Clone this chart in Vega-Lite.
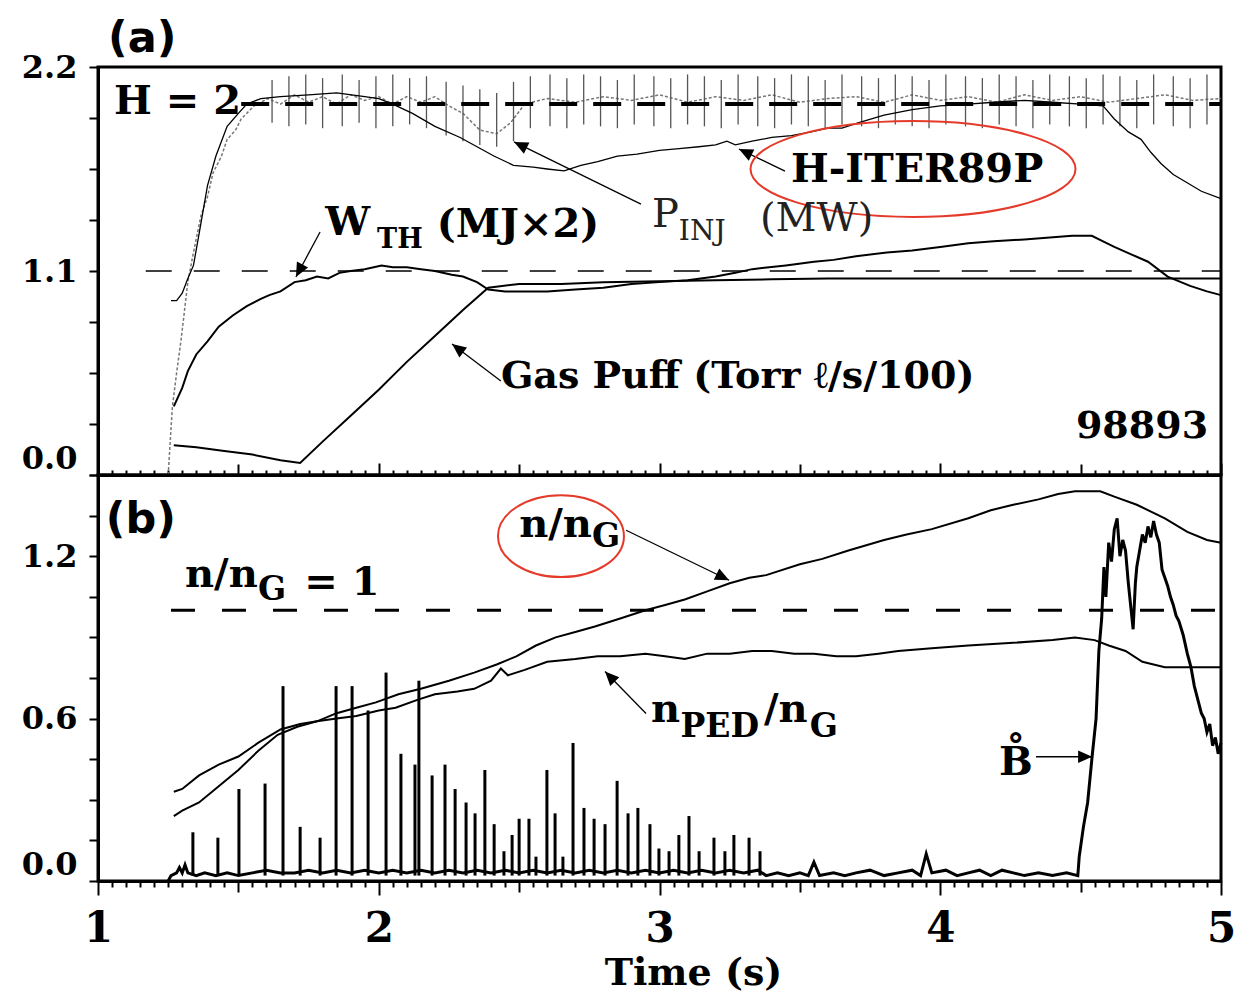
{
"$schema": "https://vega.github.io/schema/vega-lite/v6.json",
"background": "white",
"padding": {"left": 19, "top": 16, "right": 2, "bottom": 2},
"spacing": 0,
"bounds": "flush",
"config": {
 "view": {"stroke": "black", "strokeWidth": 3},
 "axis": {"domainColor": "black", "domainWidth": 3, "tickColor": "black", "tickWidth": 2, "labelColor": "black", "labelFont": "DejaVu Serif", "labelFontWeight": "bold", "titleFont": "DejaVu Serif", "titleFontWeight": "bold", "titleColor": "black", "grid": false},
 "text": {"font": "DejaVu Serif", "fontWeight": "bold", "color": "black"}
},
"datasets": {
 "a_lines": [
  {"s":"PINJ","t":1.25,"v":0.0},{"s":"PINJ","t":1.258,"v":0.2},{"s":"PINJ","t":1.265,"v":0.37},{"s":"PINJ","t":1.28,"v":0.55},{"s":"PINJ","t":1.296,"v":0.73},{"s":"PINJ","t":1.32,"v":1.04},{"s":"PINJ","t":1.34,"v":1.2},{"s":"PINJ","t":1.367,"v":1.4},{"s":"PINJ","t":1.39,"v":1.5},{"s":"PINJ","t":1.41,"v":1.63},{"s":"PINJ","t":1.44,"v":1.72},{"s":"PINJ","t":1.46,"v":1.81},{"s":"PINJ","t":1.49,"v":1.86},{"s":"PINJ","t":1.51,"v":1.92},{"s":"PINJ","t":1.556,"v":1.99},{"s":"PINJ","t":1.605,"v":2.03},{"s":"PINJ","t":1.65,"v":2.0},{"s":"PINJ","t":1.7,"v":2.05},{"s":"PINJ","t":1.75,"v":2.01},{"s":"PINJ","t":1.8,"v":2.04},{"s":"PINJ","t":1.85,"v":2.0},{"s":"PINJ","t":1.9,"v":2.05},{"s":"PINJ","t":1.95,"v":2.02},{"s":"PINJ","t":2.0,"v":2.04},{"s":"PINJ","t":2.05,"v":2.0},{"s":"PINJ","t":2.1,"v":2.04},{"s":"PINJ","t":2.15,"v":2.01},{"s":"PINJ","t":2.2,"v":2.04},{"s":"PINJ","t":2.25,"v":1.99},{"s":"PINJ","t":2.3,"v":1.95},{"s":"PINJ","t":2.36,"v":1.86},{"s":"PINJ","t":2.42,"v":1.84},{"s":"PINJ","t":2.47,"v":1.9},{"s":"PINJ","t":2.52,"v":2.0},{"s":"PINJ","t":2.6,"v":2.03},{"s":"PINJ","t":2.7,"v":2.01},{"s":"PINJ","t":2.8,"v":2.04},{"s":"PINJ","t":2.9,"v":2.02},{"s":"PINJ","t":3.0,"v":2.05},{"s":"PINJ","t":3.1,"v":2.01},{"s":"PINJ","t":3.2,"v":2.04},{"s":"PINJ","t":3.3,"v":2.02},{"s":"PINJ","t":3.4,"v":2.05},{"s":"PINJ","t":3.5,"v":2.01},{"s":"PINJ","t":3.6,"v":2.03},{"s":"PINJ","t":3.7,"v":2.04},{"s":"PINJ","t":3.8,"v":2.01},{"s":"PINJ","t":3.9,"v":2.05},{"s":"PINJ","t":4.0,"v":2.02},{"s":"PINJ","t":4.1,"v":2.04},{"s":"PINJ","t":4.2,"v":2.01},{"s":"PINJ","t":4.3,"v":2.05},{"s":"PINJ","t":4.4,"v":2.02},{"s":"PINJ","t":4.5,"v":2.04},{"s":"PINJ","t":4.6,"v":2.01},{"s":"PINJ","t":4.7,"v":2.03},{"s":"PINJ","t":4.8,"v":2.05},{"s":"PINJ","t":4.9,"v":2.02},{"s":"PINJ","t":5.0,"v":2.03},
  {"s":"H89","t":1.26,"v":0.94},{"s":"H89","t":1.28,"v":0.94},{"s":"H89","t":1.3,"v":0.98},{"s":"H89","t":1.32,"v":1.06},{"s":"H89","t":1.34,"v":1.13},{"s":"H89","t":1.36,"v":1.3},{"s":"H89","t":1.39,"v":1.56},{"s":"H89","t":1.42,"v":1.72},{"s":"H89","t":1.46,"v":1.88},{"s":"H89","t":1.5,"v":1.95},{"s":"H89","t":1.53,"v":2.0},{"s":"H89","t":1.58,"v":2.03},{"s":"H89","t":1.65,"v":2.04},{"s":"H89","t":1.75,"v":2.05},{"s":"H89","t":1.85,"v":2.06},{"s":"H89","t":1.95,"v":2.04},{"s":"H89","t":2.0,"v":2.03},{"s":"H89","t":2.05,"v":2.0},{"s":"H89","t":2.12,"v":1.95},{"s":"H89","t":2.2,"v":1.88},{"s":"H89","t":2.29,"v":1.82},{"s":"H89","t":2.35,"v":1.77},{"s":"H89","t":2.41,"v":1.72},{"s":"H89","t":2.48,"v":1.67},{"s":"H89","t":2.55,"v":1.66},{"s":"H89","t":2.6,"v":1.65},{"s":"H89","t":2.66,"v":1.64},{"s":"H89","t":2.72,"v":1.67},{"s":"H89","t":2.78,"v":1.69},{"s":"H89","t":2.85,"v":1.72},{"s":"H89","t":2.92,"v":1.73},{"s":"H89","t":3.0,"v":1.75},{"s":"H89","t":3.07,"v":1.76},{"s":"H89","t":3.14,"v":1.77},{"s":"H89","t":3.2,"v":1.78},{"s":"H89","t":3.24,"v":1.8},{"s":"H89","t":3.27,"v":1.78},{"s":"H89","t":3.33,"v":1.8},{"s":"H89","t":3.4,"v":1.82},{"s":"H89","t":3.47,"v":1.83},{"s":"H89","t":3.54,"v":1.85},{"s":"H89","t":3.6,"v":1.87},{"s":"H89","t":3.65,"v":1.87},{"s":"H89","t":3.71,"v":1.9},{"s":"H89","t":3.8,"v":1.94},{"s":"H89","t":3.9,"v":1.97},{"s":"H89","t":4.0,"v":1.99},{"s":"H89","t":4.1,"v":2.0},{"s":"H89","t":4.19,"v":2.01},{"s":"H89","t":4.3,"v":2.02},{"s":"H89","t":4.4,"v":2.01},{"s":"H89","t":4.5,"v":2.0},{"s":"H89","t":4.58,"v":1.99},{"s":"H89","t":4.62,"v":1.92},{"s":"H89","t":4.67,"v":1.85},{"s":"H89","t":4.715,"v":1.81},{"s":"H89","t":4.75,"v":1.74},{"s":"H89","t":4.786,"v":1.68},{"s":"H89","t":4.83,"v":1.62},{"s":"H89","t":4.875,"v":1.58},{"s":"H89","t":4.93,"v":1.53},{"s":"H89","t":5.0,"v":1.49},
  {"s":"WTH","t":1.27,"v":0.37},{"s":"WTH","t":1.3,"v":0.47},{"s":"WTH","t":1.32,"v":0.56},{"s":"WTH","t":1.35,"v":0.65},{"s":"WTH","t":1.39,"v":0.72},{"s":"WTH","t":1.43,"v":0.8},{"s":"WTH","t":1.48,"v":0.86},{"s":"WTH","t":1.53,"v":0.91},{"s":"WTH","t":1.58,"v":0.95},{"s":"WTH","t":1.61,"v":0.97},{"s":"WTH","t":1.65,"v":0.99},{"s":"WTH","t":1.7,"v":1.04},{"s":"WTH","t":1.74,"v":1.05},{"s":"WTH","t":1.78,"v":1.07},{"s":"WTH","t":1.82,"v":1.06},{"s":"WTH","t":1.86,"v":1.09},{"s":"WTH","t":1.9,"v":1.1},{"s":"WTH","t":1.95,"v":1.11},{"s":"WTH","t":2.01,"v":1.13},{"s":"WTH","t":2.05,"v":1.12},{"s":"WTH","t":2.1,"v":1.12},{"s":"WTH","t":2.15,"v":1.11},{"s":"WTH","t":2.2,"v":1.1},{"s":"WTH","t":2.26,"v":1.08},{"s":"WTH","t":2.3,"v":1.07},{"s":"WTH","t":2.35,"v":1.04},{"s":"WTH","t":2.39,"v":1.0},{"s":"WTH","t":2.45,"v":0.99},{"s":"WTH","t":2.5,"v":0.99},{"s":"WTH","t":2.6,"v":0.99},{"s":"WTH","t":2.7,"v":1.0},{"s":"WTH","t":2.8,"v":1.01},{"s":"WTH","t":2.9,"v":1.03},{"s":"WTH","t":3.0,"v":1.04},{"s":"WTH","t":3.1,"v":1.05},{"s":"WTH","t":3.2,"v":1.07},{"s":"WTH","t":3.27,"v":1.09},{"s":"WTH","t":3.33,"v":1.11},{"s":"WTH","t":3.45,"v":1.13},{"s":"WTH","t":3.55,"v":1.15},{"s":"WTH","t":3.62,"v":1.16},{"s":"WTH","t":3.7,"v":1.18},{"s":"WTH","t":3.81,"v":1.2},{"s":"WTH","t":3.9,"v":1.21},{"s":"WTH","t":4.0,"v":1.23},{"s":"WTH","t":4.1,"v":1.25},{"s":"WTH","t":4.19,"v":1.26},{"s":"WTH","t":4.3,"v":1.27},{"s":"WTH","t":4.39,"v":1.28},{"s":"WTH","t":4.47,"v":1.29},{"s":"WTH","t":4.54,"v":1.29},{"s":"WTH","t":4.58,"v":1.26},{"s":"WTH","t":4.62,"v":1.23},{"s":"WTH","t":4.68,"v":1.19},{"s":"WTH","t":4.74,"v":1.15},{"s":"WTH","t":4.81,"v":1.07},{"s":"WTH","t":4.89,"v":1.02},{"s":"WTH","t":4.95,"v":0.99},{"s":"WTH","t":5.0,"v":0.97},
  {"s":"Gas","t":1.27,"v":0.16},{"s":"Gas","t":1.35,"v":0.15},{"s":"Gas","t":1.45,"v":0.13},{"s":"Gas","t":1.55,"v":0.11},{"s":"Gas","t":1.65,"v":0.08},{"s":"Gas","t":1.72,"v":0.065},{"s":"Gas","t":1.8,"v":0.18},{"s":"Gas","t":1.9,"v":0.32},{"s":"Gas","t":2.0,"v":0.46},{"s":"Gas","t":2.1,"v":0.61},{"s":"Gas","t":2.2,"v":0.75},{"s":"Gas","t":2.3,"v":0.89},{"s":"Gas","t":2.39,"v":1.01},{"s":"Gas","t":2.5,"v":1.03},{"s":"Gas","t":2.65,"v":1.03},{"s":"Gas","t":2.8,"v":1.04},{"s":"Gas","t":3.0,"v":1.045},{"s":"Gas","t":3.2,"v":1.05},{"s":"Gas","t":3.4,"v":1.055},{"s":"Gas","t":3.6,"v":1.06},{"s":"Gas","t":4.0,"v":1.06},{"s":"Gas","t":4.5,"v":1.06},{"s":"Gas","t":5.0,"v":1.06}
 ],
 "a_spikes": [
  {"t":1.62,"v2":1.9,"v":2.13},{"t":1.68,"v2":1.88,"v":2.15},{"t":1.74,"v2":1.89,"v":2.16},{"t":1.8,"v2":1.87,"v":2.14},{"t":1.87,"v2":1.88,"v":2.16},{"t":1.93,"v2":1.9,"v":2.13},{"t":1.99,"v2":1.87,"v":2.15},{"t":2.05,"v2":1.88,"v":2.16},{"t":2.11,"v2":1.89,"v":2.14},{"t":2.17,"v2":1.87,"v":2.15},{"t":2.24,"v2":1.83,"v":2.12},{"t":2.3,"v2":1.8,"v":2.1},{"t":2.36,"v2":1.78,"v":2.08},{"t":2.42,"v2":1.77,"v":2.06},{"t":2.48,"v2":1.8,"v":2.12},{"t":2.54,"v2":1.87,"v":2.15},{"t":2.61,"v2":1.88,"v":2.16},{"t":2.67,"v2":1.87,"v":2.14},{"t":2.73,"v2":1.89,"v":2.16},{"t":2.79,"v2":1.88,"v":2.15},{"t":2.85,"v2":1.87,"v":2.13},{"t":2.91,"v2":1.89,"v":2.16},{"t":2.98,"v2":1.88,"v":2.15},{"t":3.04,"v2":1.87,"v":2.14},{"t":3.1,"v2":1.89,"v":2.16},{"t":3.16,"v2":1.88,"v":2.15},{"t":3.22,"v2":1.87,"v":2.13},{"t":3.28,"v2":1.89,"v":2.16},{"t":3.35,"v2":1.88,"v":2.15},{"t":3.41,"v2":1.87,"v":2.14},{"t":3.47,"v2":1.89,"v":2.16},{"t":3.53,"v2":1.88,"v":2.15},{"t":3.59,"v2":1.87,"v":2.13},{"t":3.65,"v2":1.89,"v":2.16},{"t":3.72,"v2":1.88,"v":2.15},{"t":3.78,"v2":1.87,"v":2.14},{"t":3.84,"v2":1.89,"v":2.16},{"t":3.9,"v2":1.88,"v":2.15},{"t":3.96,"v2":1.87,"v":2.13},{"t":4.02,"v2":1.89,"v":2.16},{"t":4.09,"v2":1.88,"v":2.15},{"t":4.15,"v2":1.87,"v":2.14},{"t":4.21,"v2":1.89,"v":2.16},{"t":4.27,"v2":1.88,"v":2.15},{"t":4.33,"v2":1.87,"v":2.13},{"t":4.39,"v2":1.89,"v":2.16},{"t":4.46,"v2":1.88,"v":2.15},{"t":4.52,"v2":1.87,"v":2.14},{"t":4.58,"v2":1.89,"v":2.16},{"t":4.64,"v2":1.88,"v":2.15},{"t":4.7,"v2":1.87,"v":2.13},{"t":4.76,"v2":1.89,"v":2.16},{"t":4.83,"v2":1.88,"v":2.15},{"t":4.89,"v2":1.87,"v":2.14},{"t":4.95,"v2":1.89,"v":2.16}
 ],
 "a_ref": [
  {"name":"H1.1","t":1.17,"t2":5.0,"v":1.1},
  {"name":"H=2","t":1.51,"t2":5.0,"v":2.0}
 ],
 "a_arrows": [
  {"t":1.705,"v":1.068,"t2":1.791,"v2":1.31,"dir":208},
  {"t":2.482,"v":1.796,"t2":2.934,"v2":1.461,"dir":296},
  {"t":3.283,"v":1.758,"t2":3.447,"v2":1.639,"dir":296},
  {"t":2.261,"v":0.706,"t2":2.435,"v2":0.507,"dir":307}
 ],
 "a_ellipse": [{"t":3.903,"v":1.65}],
 "a_text": [
  {"label":"H = 2","t":1.057,"v":2.011,"role":"big"},
  {"label":"W","t":1.809,"v":1.359,"role":"big"},
  {"label":"TH","t":1.994,"v":1.267,"role":"sub"},
  {"label":"(MJ×2)","t":2.207,"v":1.348,"role":"big"},
  {"label":"P","t":2.973,"v":1.402,"role":"reg"},
  {"label":"INJ","t":3.069,"v":1.31,"role":"regsub"},
  {"label":"(MW)","t":3.358,"v":1.38,"role":"reg"},
  {"label":"H-ITER89P","t":3.468,"v":1.645,"role":"big"},
  {"label":"Gas Puff (Torr ℓ/s/100)","t":2.435,"v":0.528,"role":"mid"},
  {"label":"98893","t":4.954,"v":0.259,"role":"right"},
  {"label":"(a)","t":1.036,"v":2.35,"role":"tag"}
 ],
 "b_lines": [
  {"s":"n","t":1.27,"v":0.33},{"s":"n","t":1.3,"v":0.34},{"s":"n","t":1.36,"v":0.39},{"s":"n","t":1.43,"v":0.43},{"s":"n","t":1.5,"v":0.46},{"s":"n","t":1.57,"v":0.51},{"s":"n","t":1.65,"v":0.56},{"s":"n","t":1.72,"v":0.58},{"s":"n","t":1.78,"v":0.59},{"s":"n","t":1.85,"v":0.62},{"s":"n","t":1.92,"v":0.64},{"s":"n","t":1.99,"v":0.66},{"s":"n","t":2.07,"v":0.69},{"s":"n","t":2.15,"v":0.71},{"s":"n","t":2.25,"v":0.74},{"s":"n","t":2.34,"v":0.77},{"s":"n","t":2.42,"v":0.8},{"s":"n","t":2.49,"v":0.83},{"s":"n","t":2.56,"v":0.87},{"s":"n","t":2.63,"v":0.9},{"s":"n","t":2.7,"v":0.92},{"s":"n","t":2.77,"v":0.94},{"s":"n","t":2.86,"v":0.97},{"s":"n","t":2.95,"v":1.0},{"s":"n","t":3.02,"v":1.02},{"s":"n","t":3.09,"v":1.04},{"s":"n","t":3.17,"v":1.07},{"s":"n","t":3.25,"v":1.1},{"s":"n","t":3.32,"v":1.12},{"s":"n","t":3.38,"v":1.13},{"s":"n","t":3.5,"v":1.17},{"s":"n","t":3.58,"v":1.19},{"s":"n","t":3.67,"v":1.22},{"s":"n","t":3.8,"v":1.26},{"s":"n","t":3.88,"v":1.28},{"s":"n","t":3.97,"v":1.3},{"s":"n","t":4.1,"v":1.34},{"s":"n","t":4.18,"v":1.37},{"s":"n","t":4.26,"v":1.39},{"s":"n","t":4.35,"v":1.41},{"s":"n","t":4.42,"v":1.43},{"s":"n","t":4.48,"v":1.44},{"s":"n","t":4.57,"v":1.44},{"s":"n","t":4.62,"v":1.42},{"s":"n","t":4.7,"v":1.39},{"s":"n","t":4.8,"v":1.34},{"s":"n","t":4.88,"v":1.29},{"s":"n","t":4.95,"v":1.26},{"s":"n","t":5.0,"v":1.25},
  {"s":"nped","t":1.27,"v":0.24},{"s":"nped","t":1.3,"v":0.26},{"s":"nped","t":1.36,"v":0.29},{"s":"nped","t":1.43,"v":0.35},{"s":"nped","t":1.5,"v":0.41},{"s":"nped","t":1.57,"v":0.48},{"s":"nped","t":1.64,"v":0.54},{"s":"nped","t":1.71,"v":0.57},{"s":"nped","t":1.78,"v":0.59},{"s":"nped","t":1.85,"v":0.6},{"s":"nped","t":1.92,"v":0.61},{"s":"nped","t":2.0,"v":0.63},{"s":"nped","t":2.06,"v":0.64},{"s":"nped","t":2.14,"v":0.67},{"s":"nped","t":2.2,"v":0.69},{"s":"nped","t":2.28,"v":0.7},{"s":"nped","t":2.34,"v":0.71},{"s":"nped","t":2.4,"v":0.74},{"s":"nped","t":2.435,"v":0.785},{"s":"nped","t":2.46,"v":0.76},{"s":"nped","t":2.52,"v":0.78},{"s":"nped","t":2.6,"v":0.81},{"s":"nped","t":2.7,"v":0.82},{"s":"nped","t":2.78,"v":0.83},{"s":"nped","t":2.86,"v":0.83},{"s":"nped","t":2.95,"v":0.84},{"s":"nped","t":3.02,"v":0.83},{"s":"nped","t":3.09,"v":0.82},{"s":"nped","t":3.17,"v":0.84},{"s":"nped","t":3.25,"v":0.84},{"s":"nped","t":3.33,"v":0.85},{"s":"nped","t":3.4,"v":0.85},{"s":"nped","t":3.48,"v":0.84},{"s":"nped","t":3.55,"v":0.84},{"s":"nped","t":3.63,"v":0.83},{"s":"nped","t":3.7,"v":0.83},{"s":"nped","t":3.78,"v":0.84},{"s":"nped","t":3.85,"v":0.85},{"s":"nped","t":3.97,"v":0.86},{"s":"nped","t":4.1,"v":0.87},{"s":"nped","t":4.26,"v":0.88},{"s":"nped","t":4.4,"v":0.89},{"s":"nped","t":4.48,"v":0.9},{"s":"nped","t":4.55,"v":0.89},{"s":"nped","t":4.6,"v":0.87},{"s":"nped","t":4.66,"v":0.85},{"s":"nped","t":4.72,"v":0.81},{"s":"nped","t":4.8,"v":0.79},{"s":"nped","t":4.9,"v":0.79},{"s":"nped","t":5.0,"v":0.79},
  {"s":"bdot","t":1.25,"v":0.0},{"s":"bdot","t":1.26,"v":0.02},{"s":"bdot","t":1.28,"v":0.03},{"s":"bdot","t":1.29,"v":0.05},{"s":"bdot","t":1.3,"v":0.03},{"s":"bdot","t":1.31,"v":0.06},{"s":"bdot","t":1.32,"v":0.03},{"s":"bdot","t":1.35,"v":0.02},{"s":"bdot","t":1.38,"v":0.03},{"s":"bdot","t":1.42,"v":0.02},{"s":"bdot","t":1.46,"v":0.03},{"s":"bdot","t":1.5,"v":0.02},{"s":"bdot","t":1.55,"v":0.03},{"s":"bdot","t":1.6,"v":0.04},{"s":"bdot","t":1.65,"v":0.03},{"s":"bdot","t":1.7,"v":0.03},{"s":"bdot","t":1.75,"v":0.04},{"s":"bdot","t":1.8,"v":0.03},{"s":"bdot","t":1.85,"v":0.04},{"s":"bdot","t":1.9,"v":0.03},{"s":"bdot","t":1.95,"v":0.04},{"s":"bdot","t":2.0,"v":0.03},{"s":"bdot","t":2.05,"v":0.04},{"s":"bdot","t":2.1,"v":0.03},{"s":"bdot","t":2.15,"v":0.04},{"s":"bdot","t":2.2,"v":0.03},{"s":"bdot","t":2.25,"v":0.04},{"s":"bdot","t":2.3,"v":0.03},{"s":"bdot","t":2.35,"v":0.04},{"s":"bdot","t":2.4,"v":0.03},{"s":"bdot","t":2.45,"v":0.04},{"s":"bdot","t":2.5,"v":0.03},{"s":"bdot","t":2.55,"v":0.04},{"s":"bdot","t":2.6,"v":0.03},{"s":"bdot","t":2.65,"v":0.04},{"s":"bdot","t":2.7,"v":0.03},{"s":"bdot","t":2.75,"v":0.04},{"s":"bdot","t":2.8,"v":0.03},{"s":"bdot","t":2.85,"v":0.04},{"s":"bdot","t":2.9,"v":0.03},{"s":"bdot","t":2.95,"v":0.04},{"s":"bdot","t":3.0,"v":0.03},{"s":"bdot","t":3.05,"v":0.04},{"s":"bdot","t":3.1,"v":0.03},{"s":"bdot","t":3.15,"v":0.04},{"s":"bdot","t":3.2,"v":0.03},{"s":"bdot","t":3.25,"v":0.04},{"s":"bdot","t":3.3,"v":0.03},{"s":"bdot","t":3.35,"v":0.04},{"s":"bdot","t":3.38,"v":0.02},{"s":"bdot","t":3.42,"v":0.03},{"s":"bdot","t":3.46,"v":0.02},{"s":"bdot","t":3.5,"v":0.03},{"s":"bdot","t":3.53,"v":0.02},{"s":"bdot","t":3.55,"v":0.07},{"s":"bdot","t":3.57,"v":0.02},{"s":"bdot","t":3.62,"v":0.03},{"s":"bdot","t":3.66,"v":0.02},{"s":"bdot","t":3.7,"v":0.03},{"s":"bdot","t":3.75,"v":0.04},{"s":"bdot","t":3.8,"v":0.02},{"s":"bdot","t":3.85,"v":0.03},{"s":"bdot","t":3.9,"v":0.04},{"s":"bdot","t":3.93,"v":0.02},{"s":"bdot","t":3.95,"v":0.1},{"s":"bdot","t":3.97,"v":0.03},{"s":"bdot","t":4.02,"v":0.04},{"s":"bdot","t":4.06,"v":0.02},{"s":"bdot","t":4.1,"v":0.03},{"s":"bdot","t":4.14,"v":0.04},{"s":"bdot","t":4.18,"v":0.02},{"s":"bdot","t":4.22,"v":0.04},{"s":"bdot","t":4.26,"v":0.03},{"s":"bdot","t":4.3,"v":0.02},{"s":"bdot","t":4.35,"v":0.03},{"s":"bdot","t":4.4,"v":0.02},{"s":"bdot","t":4.45,"v":0.03},{"s":"bdot","t":4.49,"v":0.02},{"s":"bdot","t":4.495,"v":0.09},{"s":"bdot","t":4.51,"v":0.2},{"s":"bdot","t":4.525,"v":0.29},{"s":"bdot","t":4.54,"v":0.45},{"s":"bdot","t":4.555,"v":0.6},{"s":"bdot","t":4.565,"v":0.85},{"s":"bdot","t":4.575,"v":0.97},{"s":"bdot","t":4.583,"v":1.16},{"s":"bdot","t":4.59,"v":1.05},{"s":"bdot","t":4.6,"v":1.25},{"s":"bdot","t":4.61,"v":1.18},{"s":"bdot","t":4.62,"v":1.3},{"s":"bdot","t":4.63,"v":1.34},{"s":"bdot","t":4.64,"v":1.2},{"s":"bdot","t":4.65,"v":1.26},{"s":"bdot","t":4.66,"v":1.22},{"s":"bdot","t":4.67,"v":1.1},{"s":"bdot","t":4.68,"v":1.0},{"s":"bdot","t":4.687,"v":0.93},{"s":"bdot","t":4.695,"v":1.1},{"s":"bdot","t":4.7,"v":1.16},{"s":"bdot","t":4.71,"v":1.22},{"s":"bdot","t":4.72,"v":1.28},{"s":"bdot","t":4.73,"v":1.25},{"s":"bdot","t":4.74,"v":1.31},{"s":"bdot","t":4.75,"v":1.27},{"s":"bdot","t":4.76,"v":1.33},{"s":"bdot","t":4.77,"v":1.28},{"s":"bdot","t":4.78,"v":1.25},{"s":"bdot","t":4.79,"v":1.15},{"s":"bdot","t":4.8,"v":1.12},{"s":"bdot","t":4.81,"v":1.09},{"s":"bdot","t":4.82,"v":1.05},{"s":"bdot","t":4.83,"v":1.02},{"s":"bdot","t":4.84,"v":0.98},{"s":"bdot","t":4.85,"v":0.96},{"s":"bdot","t":4.865,"v":0.91},{"s":"bdot","t":4.88,"v":0.84},{"s":"bdot","t":4.893,"v":0.79},{"s":"bdot","t":4.905,"v":0.72},{"s":"bdot","t":4.92,"v":0.66},{"s":"bdot","t":4.93,"v":0.62},{"s":"bdot","t":4.94,"v":0.6},{"s":"bdot","t":4.95,"v":0.55},{"s":"bdot","t":4.96,"v":0.58},{"s":"bdot","t":4.97,"v":0.5},{"s":"bdot","t":4.98,"v":0.53},{"s":"bdot","t":4.99,"v":0.47},{"s":"bdot","t":5.0,"v":0.51}
 ],
 "b_spikes": [
  {"t":1.338,"v":0.18},{"t":1.427,"v":0.16},{"t":1.502,"v":0.34},{"t":1.595,"v":0.36},{"t":1.659,"v":0.72},{"t":1.72,"v":0.2},{"t":1.791,"v":0.16},{"t":1.848,"v":0.72},{"t":1.905,"v":0.72},{"t":1.962,"v":0.63},{"t":2.026,"v":0.77},{"t":2.079,"v":0.47},{"t":2.129,"v":0.43},{"t":2.143,"v":0.74},{"t":2.19,"v":0.39},{"t":2.236,"v":0.43},{"t":2.272,"v":0.34},{"t":2.311,"v":0.29},{"t":2.343,"v":0.25},{"t":2.378,"v":0.41},{"t":2.411,"v":0.21},{"t":2.446,"v":0.11},{"t":2.475,"v":0.17},{"t":2.5,"v":0.23},{"t":2.535,"v":0.23},{"t":2.56,"v":0.09},{"t":2.599,"v":0.41},{"t":2.628,"v":0.25},{"t":2.656,"v":0.09},{"t":2.692,"v":0.51},{"t":2.731,"v":0.27},{"t":2.767,"v":0.23},{"t":2.806,"v":0.21},{"t":2.849,"v":0.37},{"t":2.888,"v":0.25},{"t":2.923,"v":0.27},{"t":2.966,"v":0.21},{"t":2.998,"v":0.12},{"t":3.034,"v":0.11},{"t":3.069,"v":0.17},{"t":3.105,"v":0.24},{"t":3.141,"v":0.11},{"t":3.194,"v":0.16},{"t":3.233,"v":0.11},{"t":3.265,"v":0.17},{"t":3.319,"v":0.16},{"t":3.358,"v":0.11}
 ],
 "b_ref": [{"name":"n=1","t":1.26,"t2":5.0,"v":1.0}],
 "b_arrows": [
  {"t":3.248,"v":1.111,"t2":2.881,"v2":1.296,"dir":116},
  {"t":2.806,"v":0.774,"t2":2.952,"v2":0.619,"dir":316},
  {"t":4.541,"v":0.459,"t2":4.341,"v2":0.459,"dir":90}
 ],
 "b_ellipse": [{"t":2.649,"v":1.274}],
 "b_text": [
  {"label":"(b)","t":1.028,"v":1.333,"role":"tag"},
  {"label":"n/n","t":2.5,"v":1.315,"role":"big"},
  {"label":"G","t":2.76,"v":1.27,"role":"sub"},
  {"label":"n/n","t":1.31,"v":1.13,"role":"big"},
  {"label":"G","t":1.57,"v":1.074,"role":"sub"},
  {"label":"= 1","t":1.735,"v":1.1,"role":"big"},
  {"label":"n","t":2.97,"v":0.63,"role":"big"},
  {"label":"PED","t":3.075,"v":0.57,"role":"sub"},
  {"label":"/n","t":3.372,"v":0.633,"role":"big"},
  {"label":"G","t":3.535,"v":0.57,"role":"sub"},
  {"label":"B̊","t":4.209,"v":0.437,"role":"big"}
 ]
},
"vconcat": [
 {
  "width": 1123, "height": 408,
  "encoding": {
   "x": {"field": "t", "type": "quantitative", "scale": {"domain": [1, 5], "nice": false, "zero": false},
    "axis": {"values": [1,1.05,1.1,1.15,1.2,1.25,1.3,1.35,1.4,1.45,1.5,1.55,1.6,1.65,1.7,1.75,1.8,1.85,1.9,1.95,2,2.05,2.1,2.15,2.2,2.25,2.3,2.35,2.4,2.45,2.5,2.55,2.6,2.65,2.7,2.75,2.8,2.85,2.9,2.95,3,3.05,3.1,3.15,3.2,3.25,3.3,3.35,3.4,3.45,3.5,3.55,3.6,3.65,3.7,3.75,3.8,3.85,3.9,3.95,4,4.05,4.1,4.15,4.2,4.25,4.3,4.35,4.4,4.45,4.5,4.55,4.6,4.65,4.7,4.75,4.8,4.85,4.9,4.95,5],
     "labels": false, "title": null,
     "tickSize": {"condition": [{"test": "datum.value % 1 === 0", "value": -12}, {"test": "abs(datum.value*2 - round(datum.value*2)) < 0.001", "value": -11}], "value": -5}}},
   "y": {"field": "v", "type": "quantitative", "scale": {"domain": [0, 2.2], "nice": false, "zero": false},
    "axis": {"values": [0,0.275,0.55,0.825,1.1,1.375,1.65,1.925,2.2],
     "labelExpr": "(datum.value === 0 || datum.value === 1.1 || datum.value === 2.2) ? format(datum.value, '.1f') : ''",
     "title": null, "tickSize": 9, "labelPadding": 12, "labelFontSize": 32, "labelOverlap": false, "labelFlush": false,
     "labelBaseline": {"condition": {"test": "datum.value === 0", "value": "bottom"}, "value": "middle"}}}
  },
  "layer": [
   {"data": {"name": "a_ref"}, "transform": [{"filter": "datum.name === 'H1.1'"}], "mark": {"type": "rule", "strokeDash": [26, 22], "strokeWidth": 1.5, "color": "black"}, "encoding": {"x2": {"field": "t2"}}},
   {"data": {"name": "a_lines"}, "transform": [{"filter": "datum.s === 'PINJ'"}], "mark": {"type": "line", "color": "#777777", "strokeWidth": 1.5, "strokeDash": [3, 2]}, "encoding": {}},
   {"data": {"name": "a_spikes"}, "mark": {"type": "rule", "color": "#555555", "strokeWidth": 1.3}, "encoding": {"y2": {"field": "v2"}}},
   {"data": {"name": "a_ref"}, "transform": [{"filter": "datum.name === 'H=2'"}], "mark": {"type": "rule", "strokeDash": [28, 16], "strokeWidth": 4, "color": "black"}, "encoding": {"x2": {"field": "t2"}}},
   {"data": {"name": "a_lines"}, "transform": [{"filter": "datum.s === 'H89'"}], "mark": {"type": "line", "color": "black", "strokeWidth": 1.3}, "encoding": {}},
   {"data": {"name": "a_lines"}, "transform": [{"filter": "datum.s === 'WTH'"}], "mark": {"type": "line", "color": "black", "strokeWidth": 2}, "encoding": {}},
   {"data": {"name": "a_lines"}, "transform": [{"filter": "datum.s === 'Gas'"}], "mark": {"type": "line", "color": "black", "strokeWidth": 2}, "encoding": {}},
   {"data": {"name": "a_arrows"}, "mark": {"type": "rule", "color": "black", "strokeWidth": 1.3}, "encoding": {"x2": {"field": "t2"}, "y2": {"field": "v2"}}},
   {"data": {"name": "a_arrows"}, "mark": {"type": "point", "shape": "M 0 0 L 0.45 1 L -0.45 1 Z", "size": 784, "filled": true, "color": "black", "opacity": 1}, "encoding": {"angle": {"field": "dir", "type": "quantitative", "scale": null}}},
   {"data": {"name": "a_ellipse"}, "mark": {"type": "point", "shape": "M -1 0 C -1 -0.163 -0.552 -0.295 0 -0.295 C 0.552 -0.295 1 -0.163 1 0 C 1 0.163 0.552 0.295 0 0.295 C -0.552 0.295 -1 0.163 -1 0 Z", "size": 105625, "filled": false, "stroke": "#e53a2a", "strokeWidth": 2, "opacity": 1}, "encoding": {}},
   {"data": {"name": "a_text"}, "transform": [{"filter": "datum.role === 'big'"}], "mark": {"type": "text", "align": "left", "baseline": "middle", "fontSize": 40}, "encoding": {"text": {"field": "label"}}},
   {"data": {"name": "a_text"}, "transform": [{"filter": "datum.role === 'mid'"}], "mark": {"type": "text", "align": "left", "baseline": "middle", "fontSize": 38}, "encoding": {"text": {"field": "label"}}},
   {"data": {"name": "a_text"}, "transform": [{"filter": "datum.role === 'sub'"}], "mark": {"type": "text", "align": "left", "baseline": "middle", "fontSize": 27}, "encoding": {"text": {"field": "label"}}},
   {"data": {"name": "a_text"}, "transform": [{"filter": "datum.role === 'reg'"}], "mark": {"type": "text", "align": "left", "baseline": "middle", "fontSize": 40, "fontWeight": "normal", "color": "#222222"}, "encoding": {"text": {"field": "label"}}},
   {"data": {"name": "a_text"}, "transform": [{"filter": "datum.role === 'regsub'"}], "mark": {"type": "text", "align": "left", "baseline": "middle", "fontSize": 28, "fontWeight": "normal", "color": "#222222"}, "encoding": {"text": {"field": "label"}}},
   {"data": {"name": "a_text"}, "transform": [{"filter": "datum.role === 'right'"}], "mark": {"type": "text", "align": "right", "baseline": "middle", "fontSize": 38}, "encoding": {"text": {"field": "label"}}},
   {"data": {"name": "a_text"}, "transform": [{"filter": "datum.role === 'tag'"}], "mark": {"type": "text", "align": "left", "baseline": "middle", "fontSize": 43, "font": "DejaVu Sans"}, "encoding": {"text": {"field": "label"}}}
  ]
 },
 {
  "width": 1123, "height": 406,
  "encoding": {
   "x": {"field": "t", "type": "quantitative", "scale": {"domain": [1, 5], "nice": false, "zero": false},
    "axis": {"values": [1,1.05,1.1,1.15,1.2,1.25,1.3,1.35,1.4,1.45,1.5,1.55,1.6,1.65,1.7,1.75,1.8,1.85,1.9,1.95,2,2.05,2.1,2.15,2.2,2.25,2.3,2.35,2.4,2.45,2.5,2.55,2.6,2.65,2.7,2.75,2.8,2.85,2.9,2.95,3,3.05,3.1,3.15,3.2,3.25,3.3,3.35,3.4,3.45,3.5,3.55,3.6,3.65,3.7,3.75,3.8,3.85,3.9,3.95,4,4.05,4.1,4.15,4.2,4.25,4.3,4.35,4.4,4.45,4.5,4.55,4.6,4.65,4.7,4.75,4.8,4.85,4.9,4.95,5],
     "labelExpr": "datum.value % 1 === 0 ? format(datum.value, 'd') : ''",
     "labelFontSize": 42, "labelPadding": 13, "labelOverlap": false, "labelFlush": false,
     "tickSize": {"condition": [{"test": "datum.value % 1 === 0", "value": 14}, {"test": "abs(datum.value*2 - round(datum.value*2)) < 0.001", "value": 11}], "value": 6},
     "title": "Time (s)", "titleFontSize": 38, "titlePadding": 5, "titleX": 595}},
   "y": {"field": "v", "type": "quantitative", "scale": {"domain": [0, 1.5], "nice": false, "zero": false},
    "axis": {"values": [0,0.15,0.3,0.45,0.6,0.75,0.9,1.05,1.2,1.35,1.5],
     "labelExpr": "(datum.value === 0 || datum.value === 0.6 || datum.value === 1.2) ? format(datum.value, '.1f') : ''",
     "title": null, "tickSize": 9, "labelPadding": 12, "labelFontSize": 32, "labelOverlap": false, "labelFlush": false,
     "labelBaseline": {"condition": {"test": "datum.value === 0", "value": "bottom"}, "value": "middle"}}}
  },
  "layer": [
   {"data": {"name": "b_ref"}, "mark": {"type": "rule", "strokeDash": [24, 27], "strokeWidth": 3, "color": "black"}, "encoding": {"x2": {"field": "t2"}}},
   {"data": {"name": "b_lines"}, "transform": [{"filter": "datum.s === 'n'"}], "mark": {"type": "line", "color": "black", "strokeWidth": 2}, "encoding": {}},
   {"data": {"name": "b_lines"}, "transform": [{"filter": "datum.s === 'nped'"}], "mark": {"type": "line", "color": "black", "strokeWidth": 2}, "encoding": {}},
   {"data": {"name": "b_lines"}, "transform": [{"filter": "datum.s === 'bdot'"}], "mark": {"type": "line", "color": "black", "strokeWidth": 3}, "encoding": {}},
   {"data": {"name": "b_spikes"}, "mark": {"type": "rule", "color": "black", "strokeWidth": 3}, "encoding": {"y2": {"datum": 0.02}}},
   {"data": {"name": "b_arrows"}, "mark": {"type": "rule", "color": "black", "strokeWidth": 1.3}, "encoding": {"x2": {"field": "t2"}, "y2": {"field": "v2"}}},
   {"data": {"name": "b_arrows"}, "mark": {"type": "point", "shape": "M 0 0 L 0.45 1 L -0.45 1 Z", "size": 784, "filled": true, "color": "black", "opacity": 1}, "encoding": {"angle": {"field": "dir", "type": "quantitative", "scale": null}}},
   {"data": {"name": "b_ellipse"}, "mark": {"type": "point", "shape": "M -1 0 C -1 -0.359 -0.552 -0.65 0 -0.65 C 0.552 -0.65 1 -0.359 1 0 C 1 0.359 0.552 0.65 0 0.65 C -0.552 0.65 -1 0.359 -1 0 Z", "size": 15876, "filled": false, "stroke": "#e53a2a", "strokeWidth": 2, "opacity": 1}, "encoding": {}},
   {"data": {"name": "b_text"}, "transform": [{"filter": "datum.role === 'big'"}], "mark": {"type": "text", "align": "left", "baseline": "middle", "fontSize": 40}, "encoding": {"text": {"field": "label"}}},
   {"data": {"name": "b_text"}, "transform": [{"filter": "datum.role === 'sub'"}], "mark": {"type": "text", "align": "left", "baseline": "middle", "fontSize": 33}, "encoding": {"text": {"field": "label"}}},
   {"data": {"name": "b_text"}, "transform": [{"filter": "datum.role === 'tag'"}], "mark": {"type": "text", "align": "left", "baseline": "middle", "fontSize": 43, "font": "DejaVu Sans"}, "encoding": {"text": {"field": "label"}}}
  ]
 }
]
}
